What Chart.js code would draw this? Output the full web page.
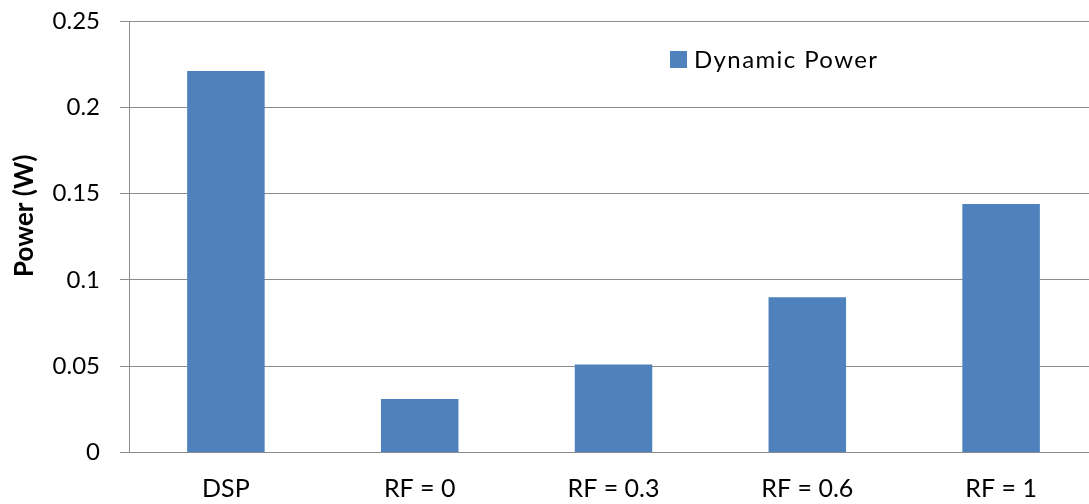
<!DOCTYPE html>
<html>
<head>
<meta charset="utf-8">
<script src="https://cdn.jsdelivr.net/npm/chart.js@4.4.1/dist/chart.umd.min.js"></script>
<style>
  html, body { margin: 0; padding: 0; background: #fff; overflow: hidden; }
  #wrap { position: relative; width: 1098px; height: 504px; }
  canvas { display: block; }
  #legend { position: absolute; left: 670px; top: 51px; height: 17px; font-family: Lato, sans-serif; font-size: 24px; letter-spacing: 1.4px; color: #000; white-space: nowrap; }
  #legend .sw { position: absolute; left: 0; top: 0; width: 17px; height: 17px; background: #4F81BD; }
  #legend .tx { position: absolute; left: 24px; top: -7px; line-height: 30px; }
</style>
</head>
<body>
<div id="wrap">
  <canvas id="c" width="1098" height="504"></canvas>
  <div id="legend"><span class="sw"></span><span class="tx" id="legtext"></span></div>
</div>
<script>
const categories = ["DSP", "RF = 0", "RF = 0.3", "RF = 0.6", "RF = 1"];
const dynamicPower = [0.221, 0.031, 0.051, 0.090, 0.144];
const seriesName = "Dynamic Power";
const yTicks = [0, 0.05, 0.1, 0.15, 0.2, 0.25];
const yTickLabels = ["0", "0.05", "0.1", "0.15", "0.2", "0.25"];
const yTitle = "Power (W)";

document.getElementById('legtext').textContent = seriesName;

const FONT = "Lato, 'Open Sans', sans-serif";
const GRID = '#8c8c8c';

const yTitlePlugin = {
  id: 'yTitle',
  afterDraw(chart) {
    const { ctx, chartArea } = chart;
    ctx.save();
    ctx.font = "bold 26px " + FONT;
    ctx.fillStyle = '#000';
    ctx.textAlign = 'center';
    ctx.textBaseline = 'middle';
    ctx.translate(25, (chartArea.top + chartArea.bottom) / 2 - 21);
    ctx.rotate(-Math.PI / 2);
    ctx.fillText(yTitle, 0, 0);
    ctx.restore();
  }
};

new Chart(document.getElementById('c'), {
  type: 'bar',
  data: {
    labels: categories,
    datasets: [{
      label: seriesName,
      data: dynamicPower,
      backgroundColor: '#4F81BD',
      borderWidth: 0,
      barPercentage: 0.4,
      categoryPercentage: 1.0
    }]
  },
  plugins: [yTitlePlugin],
  options: {
    responsive: false,
    animation: false,
    devicePixelRatio: 1,
    layout: { autoPadding: false, padding: { top: 21, right: 0, bottom: 0, left: 0 } },
    plugins: { legend: { display: false }, tooltip: { enabled: false } },
    scales: {
      x: {
        afterFit: (s) => { s.height = 51.5; s.paddingLeft = 0; s.paddingRight = 0; },
        grid: { display: false, drawTicks: false },
        border: { display: true, color: GRID, width: 1 },
        ticks: { font: { family: FONT, size: 25 }, color: '#000', padding: 21, maxRotation: 0, autoSkip: false }
      },
      y: {
        min: 0, max: 0.25,
        afterBuildTicks: (s) => { s.ticks = yTicks.map(v => ({ value: v })); },
        afterFit: (s) => { s.width = 129; s.paddingTop = 0; s.paddingBottom = 0; },
        grid: { color: GRID, lineWidth: 1, tickLength: 9, drawTicks: true },
        border: { display: true, color: GRID, width: 1 },
        ticks: {
          font: { family: FONT, size: 24 }, color: '#000', padding: 20,
          callback: (v) => yTickLabels[yTicks.indexOf(v)] ?? ''
        },
        title: { display: false }
      }
    }
  }
});
</script>
</body>
</html>
